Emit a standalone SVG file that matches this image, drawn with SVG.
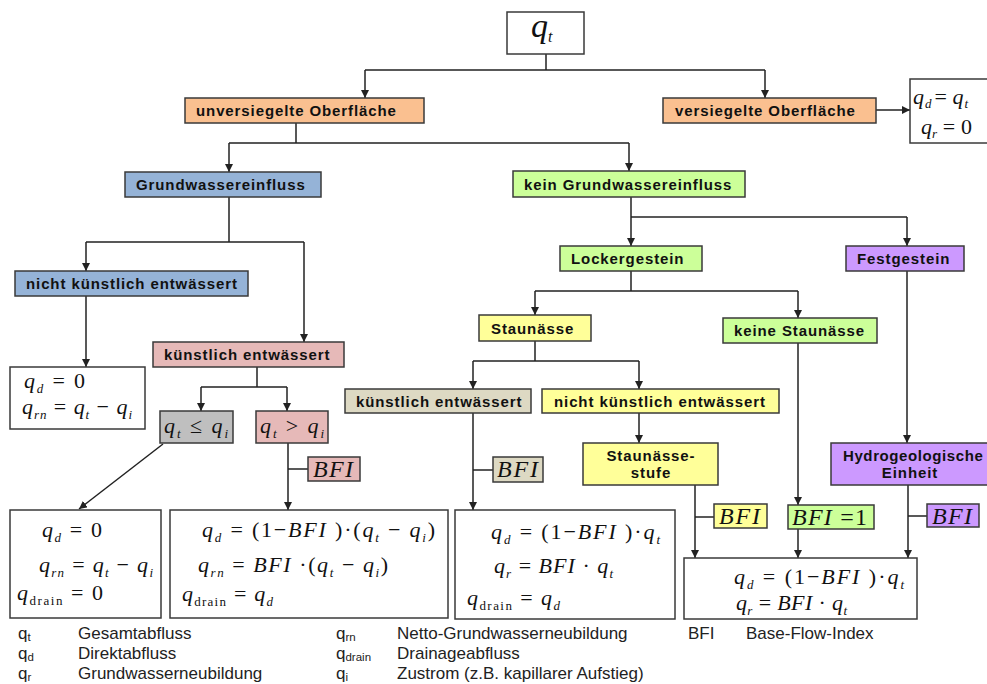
<svg xmlns="http://www.w3.org/2000/svg" width="987" height="684" viewBox="0 0 987 684">
<style>
.bx{stroke:#3a3a3a;stroke-width:1.5}
.wb{fill:#fff;stroke:#3a3a3a;stroke-width:1.5}
.lb{font-family:"Liberation Sans",Arial,sans-serif;font-weight:bold;font-size:15px;letter-spacing:0.9px;fill:#111}
.lbm{font-family:"Liberation Sans",Arial,sans-serif;font-weight:bold;font-size:15px;letter-spacing:0.9px;fill:#111;text-anchor:middle}
.f{font-family:"Liberation Serif","Times New Roman",serif;font-size:22px;fill:#111}
.g{font-family:"Liberation Serif","Times New Roman",serif;font-size:24px;font-style:italic;fill:#111}
.i{font-style:italic}
.s{font-size:13px;font-style:italic}
.sr{font-size:13px}
.ln{fill:none;stroke:#222;stroke-width:1.5}
.lg{font-family:"Liberation Sans",Arial,sans-serif;font-size:17px;fill:#222}
.lgs{font-size:11.5px}
.or{fill:#FAC090}.bl{fill:#95B3D7}.pk{fill:#E6B9B8}.gr{fill:#CCFF99}.ye{fill:#FFFF99}.pu{fill:#CC99FF}.tn{fill:#DDD9C3}.gy{fill:#BFBFBF}
</style>
<defs>
<marker id="ah" viewBox="0 0 10 10" refX="10" refY="5" markerWidth="8" markerHeight="8" markerUnits="userSpaceOnUse" orient="auto"><path d="M0,0 L10,5 L0,10 z" fill="#222"/></marker>
</defs>
<rect width="987" height="684" fill="#fff"/>

<g id="connectors">
<path class="ln" d="M546,54 V70 M365,70 H765"/>
<path class="ln" d="M365,70 V98" marker-end="url(#ah)"/>
<path class="ln" d="M765,70 V98" marker-end="url(#ah)"/>
<path class="ln" d="M876,110 H910" marker-end="url(#ah)"/>
<path class="ln" d="M296,123 V143 M229,143 H629"/>
<path class="ln" d="M229,143 V172" marker-end="url(#ah)"/>
<path class="ln" d="M629,143 V171" marker-end="url(#ah)"/>
<path class="ln" d="M229,197 V242 M86,242 H304"/>
<path class="ln" d="M86,242 V271" marker-end="url(#ah)"/>
<path class="ln" d="M304,242 V342" marker-end="url(#ah)"/>
<path class="ln" d="M86,296 V367" marker-end="url(#ah)"/>
<path class="ln" d="M257,367 V387 M201,387 H287"/>
<path class="ln" d="M201,387 V411" marker-end="url(#ah)"/>
<path class="ln" d="M287,387 V411" marker-end="url(#ah)"/>
<path class="ln" d="M163,444 L79,509" marker-end="url(#ah)"/>
<path class="ln" d="M288,443 V510" marker-end="url(#ah)"/>
<path class="ln" d="M288,469 H308"/>
<path class="ln" d="M631,197 V246" marker-end="url(#ah)"/>
<path class="ln" d="M631,217 H907"/>
<path class="ln" d="M907,217 V246" marker-end="url(#ah)"/>
<path class="ln" d="M631,271 V291 M535,291 H798"/>
<path class="ln" d="M535,291 V315" marker-end="url(#ah)"/>
<path class="ln" d="M798,291 V318" marker-end="url(#ah)"/>
<path class="ln" d="M535,341 V361 M473,361 H639"/>
<path class="ln" d="M473,361 V389" marker-end="url(#ah)"/>
<path class="ln" d="M639,361 V389" marker-end="url(#ah)"/>
<path class="ln" d="M473,413 V510" marker-end="url(#ah)"/>
<path class="ln" d="M473,470 H493"/>
<path class="ln" d="M639,413 V443" marker-end="url(#ah)"/>
<path class="ln" d="M695,485 V558" marker-end="url(#ah)"/>
<path class="ln" d="M695,517 H714"/>
<path class="ln" d="M798,343 V505" marker-end="url(#ah)"/>
<path class="ln" d="M798,529 V558" marker-end="url(#ah)"/>
<path class="ln" d="M907,271 V443" marker-end="url(#ah)"/>
<path class="ln" d="M908,485 V558" marker-end="url(#ah)"/>
<path class="ln" d="M908,516 H927"/>
</g>

<g id="qt">
<rect class="wb" x="507" y="12" width="77" height="42"/>
<text class="f i" x="531" y="37" style="font-size:34px">q<tspan style="font-size:16px" dy="5">t</tspan></text>
</g>

<g id="unversiegelt">
<rect class="bx or" x="185" y="98" width="239" height="25"/>
<text class="lb" x="196" y="115.5">unversiegelte Oberfläche</text>
</g>

<g id="versiegelt">
<rect class="bx or" x="663" y="98" width="213" height="25"/>
<text class="lb" x="675" y="115.5">versiegelte Oberfläche</text>
</g>

<g id="f-versiegelt">
<rect class="wb" x="910" y="79" width="90" height="64"/>
<text class="f" x="913" y="104"><tspan class="i">q</tspan><tspan class="s" dx="1" dy="4">d</tspan><tspan dx="3" dy="-4">= </tspan><tspan class="i">q</tspan><tspan class="s" dx="1" dy="4">t</tspan></text>
<text class="f" x="921" y="134" textLength="51" lengthAdjust="spacing"><tspan class="i">q</tspan><tspan class="s" dy="4">r</tspan><tspan dy="-4"> = 0</tspan></text>
</g>

<g id="gw">
<rect class="bx bl" x="125" y="172" width="196" height="25"/>
<text class="lb" x="136" y="189.5">Grundwassereinfluss</text>
</g>

<g id="kein-gw">
<rect class="bx gr" x="513" y="171" width="232" height="26"/>
<text class="lb" x="524" y="189.5">kein Grundwassereinfluss</text>
</g>

<g id="gw-nicht">
<rect class="bx bl" x="15" y="271" width="233" height="25"/>
<text class="lb" x="26" y="288.5">nicht künstlich entwässert</text>
</g>

<g id="gw-kuenstlich">
<rect class="bx pk" x="153" y="342" width="191" height="25"/>
<text class="lb" x="164" y="359.5">künstlich entwässert</text>
</g>

<g id="f-gw-nicht">
<rect class="wb" x="10" y="367" width="135" height="62"/>
<text class="f" x="24" y="388" textLength="61" lengthAdjust="spacing"><tspan class="i">q</tspan><tspan class="s" dy="5">d</tspan><tspan dy="-5"> = 0</tspan></text>
<text class="f" x="22" y="414" textLength="110" lengthAdjust="spacing"><tspan class="i">q</tspan><tspan class="s" dy="5">rn</tspan><tspan dy="-5"> = </tspan><tspan class="i">q</tspan><tspan class="s" dy="5">t</tspan><tspan dy="-5"> − </tspan><tspan class="i">q</tspan><tspan class="s" dy="5">i</tspan></text>
</g>

<g id="cond-le">
<rect class="bx gy" x="160" y="411" width="73" height="32"/>
<text class="f" x="164" y="433" textLength="64" lengthAdjust="spacing"><tspan class="i">q</tspan><tspan class="s" dy="5">t</tspan><tspan dy="-5"> ≤ </tspan><tspan class="i">q</tspan><tspan class="s" dy="5">i</tspan></text>
</g>

<g id="cond-gt">
<rect class="bx pk" x="256" y="411" width="72" height="32"/>
<text class="f" x="260" y="433" textLength="64" lengthAdjust="spacing"><tspan class="i">q</tspan><tspan class="s" dy="5">t</tspan><tspan dy="-5"> &gt; </tspan><tspan class="i">q</tspan><tspan class="s" dy="5">i</tspan></text>
</g>

<g id="bfi-pk">
<rect class="bx pk" x="308" y="457" width="52" height="24"/>
<text class="g" x="313" y="477" textLength="40" lengthAdjust="spacing">BFI</text>
</g>

<g id="f-le">
<rect class="wb" x="10" y="510" width="151" height="108"/>
<text class="f" x="42" y="537" textLength="60" lengthAdjust="spacing"><tspan class="i">q</tspan><tspan class="s" dy="5">d</tspan><tspan dy="-5"> = 0</tspan></text>
<text class="f" x="39" y="572" textLength="114" lengthAdjust="spacing"><tspan class="i">q</tspan><tspan class="s" dy="5">rn</tspan><tspan dy="-5"> = </tspan><tspan class="i">q</tspan><tspan class="s" dy="5">t</tspan><tspan dy="-5"> − </tspan><tspan class="i">q</tspan><tspan class="s" dy="5">i</tspan></text>
<text class="f" x="17" y="600" textLength="86" lengthAdjust="spacing"><tspan class="i">q</tspan><tspan class="sr" dy="5">drain</tspan><tspan dy="-5"> = 0</tspan></text>
</g>

<g id="f-gt">
<rect class="wb" x="170" y="510" width="278" height="108"/>
<text class="f" x="202" y="537" textLength="233" lengthAdjust="spacing"><tspan class="i">q</tspan><tspan class="s" dy="5">d</tspan><tspan dy="-5"> = (1−</tspan><tspan class="i">BFI</tspan><tspan> )·(</tspan><tspan class="i">q</tspan><tspan class="s" dy="5">t</tspan><tspan dy="-5"> − </tspan><tspan class="i">q</tspan><tspan class="s" dy="5">i</tspan><tspan dy="-5">)</tspan></text>
<text class="f" x="198" y="572" textLength="190" lengthAdjust="spacing"><tspan class="i">q</tspan><tspan class="s" dy="5">rn</tspan><tspan dy="-5"> = </tspan><tspan class="i">BFI</tspan><tspan> ·(</tspan><tspan class="i">q</tspan><tspan class="s" dy="5">t</tspan><tspan dy="-5"> − </tspan><tspan class="i">q</tspan><tspan class="s" dy="5">i</tspan><tspan dy="-5">)</tspan></text>
<text class="f" x="182" y="601" textLength="91" lengthAdjust="spacing"><tspan class="i">q</tspan><tspan class="sr" dy="5">drain</tspan><tspan dy="-5"> = </tspan><tspan class="i">q</tspan><tspan class="s" dy="5">d</tspan></text>
</g>

<g id="locker">
<rect class="bx gr" x="560" y="246" width="142" height="25"/>
<text class="lb" x="571" y="263.5">Lockergestein</text>
</g>

<g id="fest">
<rect class="bx pu" x="846" y="246" width="118" height="25"/>
<text class="lb" x="857" y="263.5">Festgestein</text>
</g>

<g id="staunaesse">
<rect class="bx ye" x="479" y="315" width="112" height="26"/>
<text class="lb" x="491" y="333.5">Staunässe</text>
</g>

<g id="keine-staunaesse">
<rect class="bx gr" x="723" y="318" width="154" height="25"/>
<text class="lb" x="734" y="335.5">keine Staunässe</text>
</g>

<g id="st-kuenstlich">
<rect class="bx tn" x="345" y="389" width="186" height="24"/>
<text class="lb" x="356" y="406.5">künstlich entwässert</text>
</g>

<g id="st-nicht">
<rect class="bx ye" x="542" y="389" width="237" height="24"/>
<text class="lb" x="554" y="406.5">nicht künstlich entwässert</text>
</g>

<g id="bfi-tn">
<rect class="bx tn" x="493" y="457" width="50" height="25"/>
<text class="g" x="497" y="477" textLength="41" lengthAdjust="spacing">BFI</text>
</g>

<g id="staunaessestufe">
<rect class="bx ye" x="583" y="443" width="135" height="42"/>
<text class="lbm" x="651" y="461">Staunässe-</text>
<text class="lbm" x="651" y="478">stufe</text>
</g>

<g id="hydro">
<rect class="bx pu" x="831" y="443" width="170" height="42"/>
<text class="lb" x="843" y="461" style="letter-spacing:0.6px">Hydrogeologische</text>
<text class="lbm" x="910" y="478">Einheit</text>
</g>

<g id="bfi-ye">
<rect class="bx ye" x="714" y="504" width="53" height="24"/>
<text class="g" x="719" y="524" textLength="41" lengthAdjust="spacing">BFI</text>
</g>

<g id="bfi-1">
<rect class="bx gr" x="788" y="505" width="86" height="24"/>
<text class="g" x="792" y="525" textLength="75" lengthAdjust="spacing">BFI <tspan style="font-style:normal">=1</tspan></text>
</g>

<g id="bfi-pu">
<rect class="bx pu" x="927" y="504" width="52" height="23"/>
<text class="g" x="932" y="524" textLength="40" lengthAdjust="spacing">BFI</text>
</g>

<g id="f-st-kuenstlich">
<rect class="wb" x="455" y="510" width="220" height="109"/>
<text class="f" x="491" y="539" textLength="169" lengthAdjust="spacing"><tspan class="i">q</tspan><tspan class="s" dy="5">d</tspan><tspan dy="-5"> = (1−</tspan><tspan class="i">BFI</tspan><tspan> )·</tspan><tspan class="i">q</tspan><tspan class="s" dy="5">t</tspan></text>
<text class="f" x="494" y="573" textLength="119" lengthAdjust="spacing"><tspan class="i">q</tspan><tspan class="s" dy="5">r</tspan><tspan dy="-5"> = </tspan><tspan class="i">BFI</tspan><tspan> · </tspan><tspan class="i">q</tspan><tspan class="s" dy="5">t</tspan></text>
<text class="f" x="467" y="605" textLength="93" lengthAdjust="spacing"><tspan class="i">q</tspan><tspan class="sr" dy="5">drain</tspan><tspan dy="-5"> = </tspan><tspan class="i">q</tspan><tspan class="s" dy="5">d</tspan></text>
</g>

<g id="f-rest">
<rect class="wb" x="684" y="558" width="233" height="61"/>
<text class="f" x="734" y="584" textLength="170" lengthAdjust="spacing"><tspan class="i">q</tspan><tspan class="s" dy="5">d</tspan><tspan dy="-5"> = (1−</tspan><tspan class="i">BFI</tspan><tspan> )·</tspan><tspan class="i">q</tspan><tspan class="s" dy="5">t</tspan></text>
<text class="f" x="736" y="610" textLength="111" lengthAdjust="spacing"><tspan class="i">q</tspan><tspan class="s" dy="5">r</tspan><tspan dy="-5"> = </tspan><tspan class="i">BFI</tspan><tspan> · </tspan><tspan class="i">q</tspan><tspan class="s" dy="5">t</tspan></text>
</g>

<g id="legend">
<text class="lg" x="18" y="639">q<tspan class="lgs" dy="2">t</tspan></text>
<text class="lg" x="78" y="639">Gesamtabfluss</text>
<text class="lg" x="18" y="659">q<tspan class="lgs" dy="2">d</tspan></text>
<text class="lg" x="78" y="659">Direktabfluss</text>
<text class="lg" x="18" y="679">q<tspan class="lgs" dy="2">r</tspan></text>
<text class="lg" x="78" y="679">Grundwasserneubildung</text>
<text class="lg" x="336" y="639">q<tspan class="lgs" dy="2">rn</tspan></text>
<text class="lg" x="397" y="639">Netto-Grundwasserneubildung</text>
<text class="lg" x="336" y="659">q<tspan class="lgs" dy="2">drain</tspan></text>
<text class="lg" x="397" y="659">Drainageabfluss</text>
<text class="lg" x="336" y="679">q<tspan class="lgs" dy="2">i</tspan></text>
<text class="lg" x="397" y="679">Zustrom (z.B. kapillarer Aufstieg)</text>
<text class="lg" x="688" y="639">BFI</text>
<text class="lg" x="746" y="639">Base-Flow-Index</text>
</g>
</svg>
